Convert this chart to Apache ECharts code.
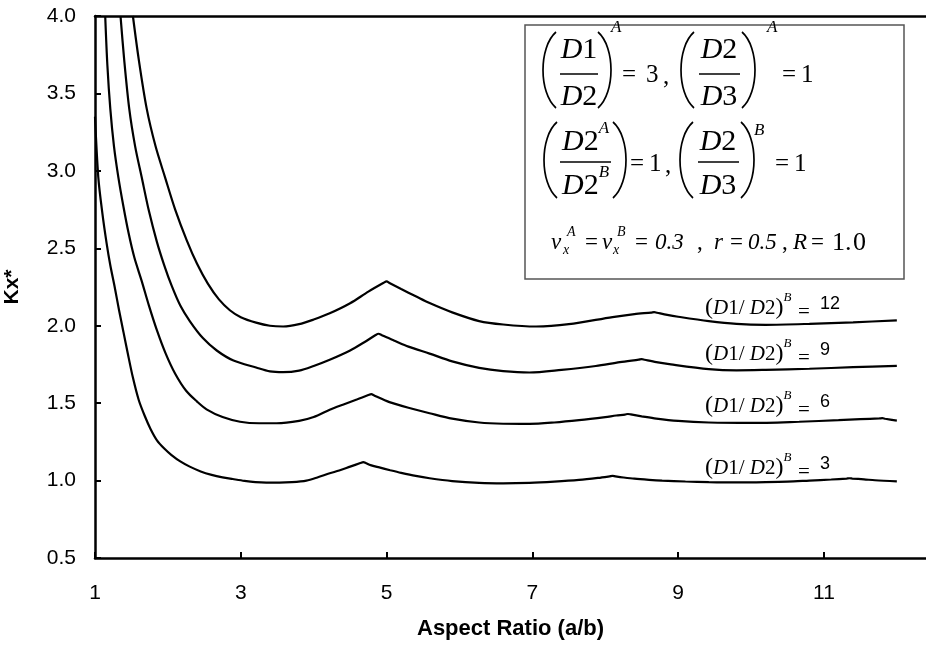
<!DOCTYPE html>
<html>
<head>
<meta charset="utf-8">
<title>Kx* vs Aspect Ratio</title>
<script src="https://cdn.jsdelivr.net/npm/echarts@6/dist/echarts.min.js"></script>
<style>
html, body { margin: 0; padding: 0; background: #fff; }
#main { width: 926px; height: 648px; }
</style>
</head>
<body>
<div id="main"></div>
<script>
// values, one x/y pair of arrays per curve
// (D1/D2)^B = 3
var x3 = [1.0, 1.045, 1.1, 1.16, 1.21, 1.27, 1.33, 1.39, 1.45, 1.52, 1.6, 1.68, 1.76, 1.85, 1.95, 2.05, 2.17, 2.3, 2.45, 2.6, 2.75, 2.89, 3.05, 3.2, 3.35, 3.53, 3.7, 3.9, 4.05, 4.22, 4.35, 4.5, 4.64, 4.68, 4.72, 4.78, 4.9, 5.05, 5.2, 5.4, 5.59, 5.9, 6.27, 6.6, 6.96, 7.3, 7.64, 7.9, 8.06, 8.1, 8.14, 8.25, 8.4, 8.6, 8.78, 9.1, 9.42, 9.8, 10.2, 10.5, 10.8, 11.1, 11.31, 11.35, 11.39, 11.55, 11.7, 12.0];
var y3 = [3.35, 2.96, 2.73, 2.53, 2.39, 2.25, 2.10, 1.96, 1.82, 1.665, 1.52, 1.42, 1.335, 1.26, 1.207, 1.165, 1.124, 1.09, 1.059, 1.037, 1.021, 1.01, 0.998, 0.99, 0.987, 0.987, 0.99, 1.0, 1.02, 1.047, 1.065, 1.09, 1.113, 1.119, 1.112, 1.10, 1.085, 1.067, 1.05, 1.03, 1.015, 0.997, 0.985, 0.982, 0.985, 0.993, 1.004, 1.017, 1.027, 1.03, 1.027, 1.02, 1.012, 1.005, 1.0, 0.994, 0.99, 0.988, 0.99, 0.993, 1.0, 1.007, 1.013, 1.015, 1.013, 1.008, 1.002, 0.995];
// (D1/D2)^B = 6
var x6 = [1.14, 1.17, 1.21, 1.26, 1.32, 1.39, 1.46, 1.54, 1.64, 1.74, 1.85, 1.97, 2.1, 2.25, 2.4, 2.53, 2.75, 2.99, 3.25, 3.49, 3.8, 4.0, 4.22, 4.4, 4.6, 4.75, 4.79, 4.83, 4.9, 5.05, 5.3, 5.59, 5.9, 6.27, 6.6, 6.96, 7.3, 7.64, 8.0, 8.15, 8.27, 8.31, 8.35, 8.5, 8.7, 9.0, 9.42, 10.0, 10.66, 11.2, 11.5, 11.76, 11.8, 11.84, 12.0];
var y6 = [4.0, 3.68, 3.40, 3.16, 2.96, 2.77, 2.60, 2.44, 2.29, 2.13, 1.97, 1.82, 1.69, 1.58, 1.51, 1.46, 1.41, 1.38, 1.37, 1.37, 1.385, 1.41, 1.457, 1.49, 1.525, 1.552, 1.558, 1.55, 1.535, 1.505, 1.47, 1.435, 1.40, 1.375, 1.367, 1.366, 1.375, 1.39, 1.41, 1.42, 1.426, 1.43, 1.427, 1.415, 1.40, 1.385, 1.375, 1.372, 1.38, 1.39, 1.397, 1.401, 1.403, 1.399, 1.387];
// (D1/D2)^B = 9
var x9 = [1.35, 1.4, 1.47, 1.55, 1.64, 1.74, 1.85, 1.95, 2.05, 2.17, 2.3, 2.48, 2.67, 2.9, 3.21, 3.4, 3.58, 3.8, 4.0, 4.22, 4.5, 4.7, 4.85, 4.89, 4.93, 5.0, 5.1, 5.3, 5.59, 5.9, 6.27, 6.6, 6.96, 7.4, 7.87, 8.2, 8.46, 8.5, 8.54, 8.7, 8.9, 9.42, 9.8, 10.2, 10.8, 11.4, 12.0];
var y9 = [4.0, 3.72, 3.40, 3.16, 2.96, 2.74, 2.54, 2.39, 2.26, 2.13, 2.03, 1.92, 1.84, 1.775, 1.73, 1.705, 1.70, 1.71, 1.74, 1.78, 1.84, 1.895, 1.94, 1.948, 1.94, 1.925, 1.905, 1.865, 1.82, 1.77, 1.728, 1.707, 1.698, 1.715, 1.74, 1.765, 1.781, 1.784, 1.78, 1.765, 1.75, 1.72, 1.712, 1.715, 1.722, 1.732, 1.741];
// (D1/D2)^B = 12
var x12 = [1.52, 1.6, 1.71, 1.83, 1.96, 2.1, 2.26, 2.4, 2.55, 2.7, 2.85, 3.0, 3.21, 3.4, 3.58, 3.8, 4.0, 4.22, 4.5, 4.75, 4.96, 5.0, 5.04, 5.2, 5.4, 5.59, 5.9, 6.27, 6.6, 7.05, 7.5, 8.1, 8.4, 8.63, 8.67, 8.71, 8.85, 9.0, 9.42, 9.8, 10.2, 10.8, 11.4, 12.0];
var y12 = [4.0, 3.72, 3.40, 3.16, 2.96, 2.75, 2.55, 2.40, 2.27, 2.17, 2.10, 2.055, 2.02, 2.0, 1.995, 2.01, 2.04, 2.08, 2.145, 2.22, 2.277, 2.286, 2.276, 2.237, 2.19, 2.146, 2.086, 2.03, 2.008, 1.995, 2.01, 2.056, 2.075, 2.085, 2.088, 2.084, 2.07, 2.058, 2.03, 2.012, 2.006, 2.012, 2.022, 2.034];

var ratioNames = ['3', '6', '9', '12'];   // (D1/D2)^B of each curve
var xTickLabels = [1, 3, 5, 7, 9, 11];

var SERIF = '"Liberation Serif", "Times New Roman", serif';
var SANS = '"Liberation Sans", Arial, sans-serif';
var R30 = '30px ' + SERIF, I30 = 'italic 30px ' + SERIF, I17 = 'italic 17px ' + SERIF;
var R25 = '25px ' + SERIF, R26 = '26px ' + SERIF;
var R23 = '23px ' + SERIF, I23 = 'italic 23px ' + SERIF, I14 = 'italic 14px ' + SERIF;
var R21 = '21px ' + SERIF, I21 = 'italic 21px ' + SERIF, R24 = '24px ' + SERIF, I13 = 'italic 13px ' + SERIF;

function pairs(xs, ys) {
  var out = [];
  for (var i = 0; i < xs.length; i++) out.push([xs[i], ys[i]]);
  return out;
}

var measure = document.createElement('canvas').getContext('2d');
function textW(t, font) { measure.font = font; return measure.measureText(t).width; }

// one text piece
function txt(x, y, t, font, align) {
  return {
    type: 'text', z: 100,
    style: { x: x, y: y, text: t, font: font, fill: '#000', textAlign: align || 'left', textVerticalAlign: 'middle' }
  };
}
// pieces laid out one after another, [text, font, dy]
function run(x, y, parts, center) {
  var w = 0, out = [];
  parts.forEach(function (p) { w += textW(p[0], p[1]); });
  var cx = center ? x - w / 2 : x;
  parts.forEach(function (p) {
    out.push(txt(cx, y + (p[2] || 0), p[0], p[1]));
    cx += textW(p[0], p[1]);
  });
  return out;
}
function bar(x1, x2, y) {
  return { type: 'line', z: 100, shape: { x1: x1, y1: y, x2: x2, y2: y }, style: { stroke: '#000', lineWidth: 1.4 } };
}
// tall bracket: tip = x of the ends, mid = x of the belly
function paren(tip, mid, y1, y2) {
  var c = mid + (mid - tip) / 3;
  return {
    type: 'bezierCurve', z: 100,
    shape: { x1: tip, y1: y1, x2: tip, y2: y2, cpx1: c, cpy1: y1 + (y2 - y1) * 0.2, cpx2: c, cpy2: y1 + (y2 - y1) * 0.8 },
    style: { stroke: '#000', lineWidth: 1.7, fill: null }
  };
}

var graphics = [];
// box
graphics.push({ type: 'rect', z: 90, shape: { x: 525, y: 25, width: 379, height: 254 }, style: { fill: '#fff', stroke: '#555', lineWidth: 1.5 } });

// row 1:  (D1/D2)^A = 3 , (D2/D3)^A = 1
graphics.push(paren(556, 543, 32, 108));
graphics = graphics.concat(run(579, 50, [['D', I30], ['1', R30]], true));
graphics.push(bar(560, 598, 74));
graphics = graphics.concat(run(579, 97, [['D', I30], ['2', R30]], true));
graphics.push(paren(598, 611, 32, 108));
graphics.push(txt(611, 28, 'A', I17));
graphics.push(txt(622, 75, '=', R25));
graphics.push(txt(646, 75, '3', R25));
graphics.push(txt(663, 77, ',', R25));
graphics.push(paren(694, 681, 32, 108));
graphics = graphics.concat(run(719, 50, [['D', I30], ['2', R30]], true));
graphics.push(bar(699, 740, 74));
graphics = graphics.concat(run(719, 97, [['D', I30], ['3', R30]], true));
graphics.push(paren(742, 755, 32, 108));
graphics.push(txt(767, 28, 'A', I17));
graphics.push(txt(782, 75, '=', R25));
graphics.push(txt(801, 75, '1', R25));

// row 2:  (D2^A / D2^B) = 1 , (D2/D3)^B = 1
graphics.push(paren(557, 544, 122, 198));
graphics = graphics.concat(run(562, 142, [['D', I30], ['2', R30], ['A', I17, -13]]));
graphics.push(bar(560, 611, 162));
graphics = graphics.concat(run(562, 186, [['D', I30], ['2', R30], ['B', I17, -13]]));
graphics.push(paren(613, 626, 122, 198));
graphics.push(txt(630, 164, '=', R25));
graphics.push(txt(649, 164, '1', R25));
graphics.push(txt(665, 166, ',', R25));
graphics.push(paren(693, 680, 122, 198));
graphics = graphics.concat(run(718, 142, [['D', I30], ['2', R30]], true));
graphics.push(bar(698, 739, 162));
graphics = graphics.concat(run(718, 186, [['D', I30], ['3', R30]], true));
graphics.push(paren(741, 754, 122, 198));
graphics.push(txt(754, 131, 'B', I17));
graphics.push(txt(775, 164, '=', R25));
graphics.push(txt(794, 164, '1', R25));

// row 3:  vx^A = vx^B = 0.3 , r = 0.5 , R = 1.0
[
  ['v', I23, 551, 0], ['x', I14, 563, 7], ['A', I14, 567, -11], ['=', R23, 585, 0],
  ['v', I23, 602, 0], ['x', I14, 613, 7], ['B', I14, 617, -11], ['=', R23, 635, 0],
  ['0.3', I23, 655, 0], [',', R23, 697, 0], ['r', I23, 714, 0], ['=', R23, 730, 0],
  ['0.5', I23, 748, 0], [',', R23, 782, 0], ['R', I23, 793, 0], ['=', R23, 811, 0],
  ['1', R26, 832, 0], ['.', R26, 845, 0], ['0', R26, 853, 0]
].forEach(function (p) { graphics.push(txt(p[2], 243 + p[3], p[0], p[1])); });

// curve labels (D1/D2)^B = n
var labelY = [468, 406, 354, 308];
ratioNames.forEach(function (n, i) {
  var y = labelY[i];
  graphics = graphics.concat(run(705, y, [['(', R24], ['D', I21], ['1', R21], ['/', R21], [' ', R21],
    ['D', I21], ['2', R21], [')', R24], ['B', I13, -10]]));
  graphics.push(txt(798, y + 4, '=', R21));
  graphics.push(txt(820, y - 4, n, '18px ' + SANS));
});

var lineStyle = { color: '#000', width: 2.2 };
var allX = [x3, x6, x9, x12], allY = [y3, y6, y9, y12];
var series = ratioNames.map(function (n, i) {
  return {
    name: '(D1/D2)^B = ' + n,
    type: 'line',
    data: pairs(allX[i], allY[i]),
    smooth: 0.3,
    showSymbol: false,
    symbol: 'none',
    clip: true,
    lineStyle: lineStyle
  };
});

var axisLine = { show: true, onZero: false, lineStyle: { color: '#000', width: 2.5 } };

var option = {
  backgroundColor: '#fff',
  animation: false,
  grid: { left: 95, right: 0, top: 16, bottom: 90, outerBoundsMode: 'none', containLabel: false },
  xAxis: [{
    type: 'value',
    min: 1,
    max: 12.4,
    interval: 2,
    axisLine: axisLine,
    axisTick: { show: true, inside: true, length: 6, lineStyle: { color: '#000', width: 2 } },
    axisLabel: {
      showMaxLabel: false,
      color: '#000', fontSize: 21, fontFamily: SANS, margin: 25,
      formatter: function (v) { return xTickLabels.indexOf(v) >= 0 ? String(v) : ''; }
    },
    splitLine: { show: false },
    name: 'Aspect Ratio (a/b)',
    nameLocation: 'middle',
    nameGap: 60,
    nameTextStyle: { color: '#000', fontSize: 22, fontWeight: 'bold', fontFamily: SANS }
  }, {
    // top frame line only
    type: 'value',
    position: 'top',
    min: 1,
    max: 12.4,
    axisLine: axisLine,
    axisTick: { show: false },
    axisLabel: { show: false },
    splitLine: { show: false }
  }],
  yAxis: {
    type: 'value',
    min: 0.5,
    max: 4,
    interval: 0.5,
    axisLine: axisLine,
    axisTick: { show: true, inside: true, length: 6, lineStyle: { color: '#000', width: 2 } },
    axisLabel: {
      color: '#000', fontSize: 21, fontFamily: SANS, margin: 19,
      formatter: function (v) { return v.toFixed(1); }
    },
    splitLine: { show: false },
    name: 'Kx*',
    nameLocation: 'middle',
    nameRotate: 90,
    nameGap: 72,
    nameTextStyle: { color: '#000', fontSize: 21, fontWeight: 'bold', fontFamily: SANS }
  },
  graphic: graphics,
  series: series
};

var chart = echarts.init(document.getElementById('main'));
chart.setOption(option);
</script>
</body>
</html>
